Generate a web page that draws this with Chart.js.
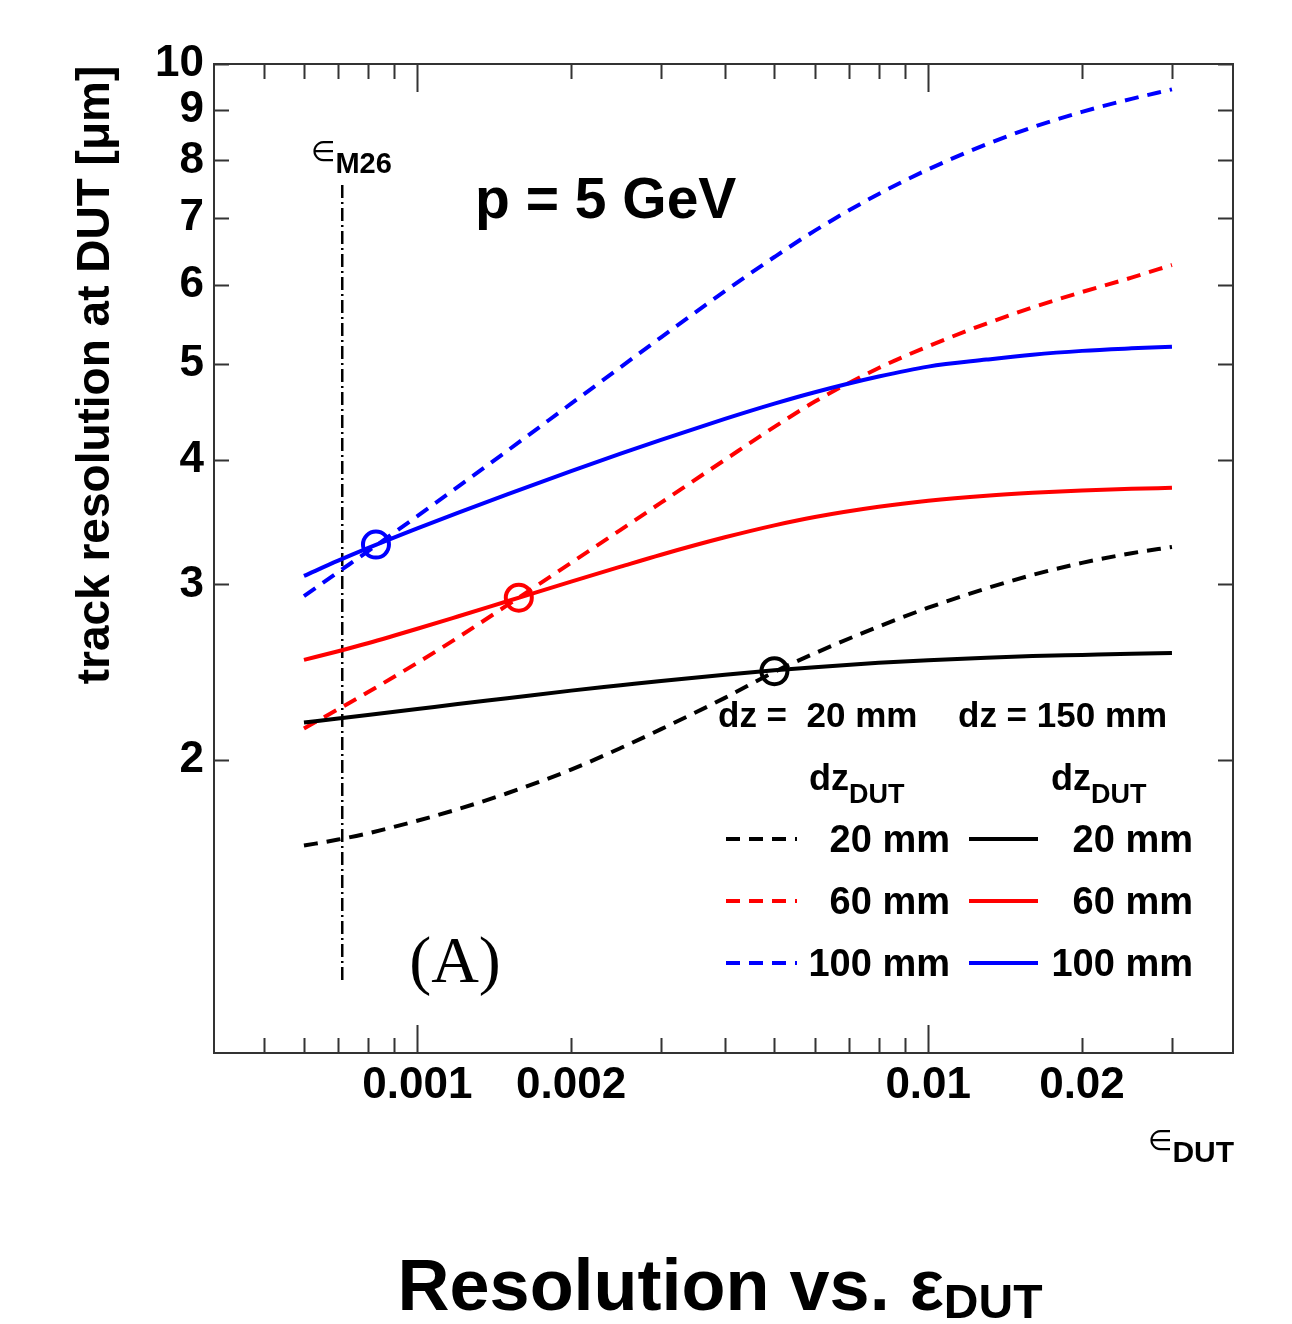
<!DOCTYPE html>
<html>
<head>
<meta charset="utf-8">
<script src="https://cdn.jsdelivr.net/npm/chart.js@4.4.1/dist/chart.umd.min.js"></script>
<style>
  body { margin: 0; background: #fff; }
  #wrap { width: 1292px; height: 1324px; }
</style>
</head>
<body>
<div id="wrap"><canvas id="resChart" width="1292" height="1324"></canvas></div>
<script>
// material budget of the DUT (x axis samples)
const epsDut = [0.0006, 0.0007, 0.0008, 0.001, 0.0012, 0.0015, 0.002, 0.0025, 0.003, 0.004,
                0.005, 0.006, 0.008, 0.01, 0.013, 0.016, 0.02, 0.025, 0.03];

// dz = 20 mm (dashed curves), track resolution in um
const dut20_dz20  = [1.640, 1.663, 1.687, 1.737, 1.784, 1.851, 1.955, 2.055, 2.147, 2.308, 2.451, 2.559, 2.722, 2.843, 2.973, 3.067, 3.154, 3.225, 3.272];
const dut60_dz20  = [2.150, 2.248, 2.338, 2.503, 2.653, 2.860, 3.154, 3.404, 3.625, 4.003, 4.320, 4.580, 4.950, 5.205, 5.486, 5.694, 5.901, 6.101, 6.282];
const dut100_dz20 = [2.920, 3.087, 3.239, 3.514, 3.760, 4.087, 4.558, 4.960, 5.314, 5.913, 6.399, 6.802, 7.404, 7.837, 8.304, 8.638, 8.952, 9.225, 9.430];

// dz = 150 mm (solid curves)
const dut20_dz150  = [2.180, 2.200, 2.218, 2.249, 2.275, 2.306, 2.347, 2.376, 2.400, 2.435, 2.460, 2.478, 2.503, 2.518, 2.533, 2.542, 2.549, 2.556, 2.560];
const dut60_dz150  = [2.520, 2.571, 2.619, 2.708, 2.786, 2.886, 3.020, 3.126, 3.214, 3.346, 3.440, 3.507, 3.591, 3.641, 3.684, 3.709, 3.729, 3.743, 3.752];
const dut100_dz150 = [3.060, 3.170, 3.263, 3.416, 3.541, 3.696, 3.900, 4.060, 4.192, 4.400, 4.558, 4.680, 4.853, 4.966, 5.047, 5.105, 5.150, 5.180, 5.200];

// crossing points (open circles): blue, red, black
const crossEps = [0.00083, 0.00158, 0.005];
const crossRes = [3.29, 2.91, 2.455];

// eps of the M26 planes (dash-dot vertical line)
const epsM26 = 0.000713;
const m26Res = [7.56, 1.20];

// axis ticks
const xTicks = [0.0005, 0.0006, 0.0007, 0.0008, 0.0009, 0.001, 0.002, 0.003, 0.004, 0.005,
                0.006, 0.007, 0.008, 0.009, 0.01, 0.02, 0.03];
const xMajor = [0.001, 0.01];
const xLabels = { '0.001': '0.001', '0.002': '0.002', '0.01': '0.01', '0.02': '0.02' };
const yTicks = [2, 3, 4, 5, 6, 7, 8, 9, 10];

const BLUE = '#0000ff', RED = '#ff0000', BLACK = '#000000';
const DASH = [14, 9];

function pts(arr) {
    return epsDut.map((e, i) => ({ x: e, y: arr[i] }));
}

function curve(arr, color, dashed) {
    return {
        data: pts(arr),
        borderColor: color,
        borderWidth: 4,
        borderDash: dashed ? DASH : [],
        pointRadius: 0,
        cubicInterpolationMode: 'monotone',
        fill: false
    };
}

// text, frame and inward ticks in ROOT style
const decorations = {
    id: 'decorations',
    afterDatasetsDraw(chart) {
        const { ctx, chartArea: a, scales: { x, y } } = chart;
        ctx.save();

        // frame
        ctx.strokeStyle = '#333';
        ctx.lineWidth = 2;
        ctx.strokeRect(a.left, a.top, a.right - a.left, a.bottom - a.top);

        // x ticks, bottom and top
        xTicks.forEach(v => {
            const px = Math.round(x.getPixelForValue(v)) + 0.5;
            const len = xMajor.includes(v) ? 28 : 15;
            ctx.beginPath();
            ctx.moveTo(px, a.bottom); ctx.lineTo(px, a.bottom - len);
            ctx.moveTo(px, a.top); ctx.lineTo(px, a.top + len);
            ctx.stroke();
        });
        // y ticks, left and right
        yTicks.forEach(v => {
            const py = Math.round(y.getPixelForValue(v)) + 0.5;
            ctx.beginPath();
            ctx.moveTo(a.left, py); ctx.lineTo(a.left + 15, py);
            ctx.moveTo(a.right, py); ctx.lineTo(a.right - 15, py);
            ctx.stroke();
        });

        ctx.fillStyle = '#000';
        ctx.textBaseline = 'alphabetic';
        const SANS = '"Liberation Sans", Arial, sans-serif';

        function txt(s, px, py, font, align) {
            ctx.font = font;
            ctx.textAlign = align || 'left';
            ctx.fillText(s, px, py);
            return ctx.measureText(s).width;
        }

        // y axis title
        ctx.save();
        ctx.translate(109, 375);
        ctx.rotate(-Math.PI / 2);
        txt('track resolution at DUT [\u03bcm]', 0, 0, 'bold 46px ' + SANS, 'center');
        ctx.restore();

        // x axis title: eps_DUT
        let w = txt('\u2208', 1148, 1150, '28px "DejaVu Sans"');
        txt('DUT', 1148 + w, 1162, 'bold 30px ' + SANS);

        // eps_M26 label
        w = txt('\u2208', 311, 161, '28px "DejaVu Sans"');
        txt('M26', 311 + w, 173, 'bold 29px ' + SANS);

        // momentum
        txt('p = 5 GeV', 475, 218, 'bold 57px ' + SANS);

        // panel label
        txt('(A)', 455, 982, '66px "Liberation Serif", "Times New Roman", serif', 'center');

        // legend headers
        txt('dz =  20 mm', 718, 727, 'bold 35px ' + SANS);
        txt('dz = 150 mm', 958, 727, 'bold 35px ' + SANS);
        w = txt('dz', 809, 790, 'bold 36px ' + SANS);
        txt('DUT', 809 + w, 803, 'bold 27px ' + SANS);
        w = txt('dz', 1051, 790, 'bold 36px ' + SANS);
        txt('DUT', 1051 + w, 803, 'bold 27px ' + SANS);

        // legend rows
        const rows = [['20 mm', BLACK], ['60 mm', RED], ['100 mm', BLUE]];
        rows.forEach((r, i) => {
            const ly = 839 + i * 62;
            ctx.lineWidth = 4;
            ctx.strokeStyle = r[1];
            ctx.setLineDash(DASH);
            ctx.beginPath(); ctx.moveTo(726, ly); ctx.lineTo(797, ly); ctx.stroke();
            ctx.setLineDash([]);
            ctx.beginPath(); ctx.moveTo(969, ly); ctx.lineTo(1038, ly); ctx.stroke();
            txt(r[0], 950, ly + 13, 'bold 38px ' + SANS, 'right');
            txt(r[0], 1193, ly + 13, 'bold 38px ' + SANS, 'right');
        });

        // bottom title
        const tFont = 'bold 72px ' + SANS;
        const sFont = 'bold 48px ' + SANS;
        ctx.font = tFont;
        const w1 = ctx.measureText('Resolution vs. \u03b5').width;
        ctx.font = sFont;
        const w2 = ctx.measureText('DUT').width;
        const x0 = 720 - (w1 + w2) / 2;
        txt('Resolution vs. \u03b5', x0, 1310, tFont);
        txt('DUT', x0 + w1, 1318, sFont);

        ctx.restore();
    }
};

const tickFont = { family: '"Liberation Sans", Arial, sans-serif', size: 44, weight: 'bold' };

const resChart = new Chart(document.getElementById('resChart'), {
    type: 'line',
    data: {
        datasets: [
            // crossing circles (drawn on top)
            {
                data: crossEps.map((e, i) => ({ x: e, y: crossRes[i] })),
                showLine: false,
                pointStyle: 'circle',
                pointRadius: 13,
                pointBorderWidth: 4,
                pointBackgroundColor: 'rgba(0,0,0,0)',
                pointBorderColor: [BLUE, RED, BLACK]
            },
            curve(dut100_dz150, BLUE, false),
            curve(dut60_dz150, RED, false),
            curve(dut20_dz150, BLACK, false),
            curve(dut100_dz20, BLUE, true),
            curve(dut60_dz20, RED, true),
            curve(dut20_dz20, BLACK, true),
            // eps M26 marker line
            {
                data: m26Res.map(r => ({ x: epsM26, y: r })),
                borderColor: BLACK,
                borderWidth: 2.5,
                borderDash: [13, 4, 2, 4],
                pointRadius: 0
            }
        ]
    },
    options: {
        responsive: false,
        animation: false,
        layout: { padding: { left: 0, top: 64, right: 59, bottom: 0 } },
        plugins: { legend: { display: false }, tooltip: { enabled: false } },
        scales: {
            x: {
                type: 'logarithmic',
                min: 0.0004,
                max: 0.0395,
                afterBuildTicks: s => { s.ticks = xTicks.map(v => ({ value: v })); },
                afterFit: s => { s.height = 271; },
                grid: { display: false, drawTicks: false },
                border: { display: false },
                ticks: {
                    autoSkip: false, maxRotation: 0, minRotation: 0,
                    padding: 6, color: '#000', font: tickFont,
                    callback: v => xLabels[String(v)] || ''
                }
            },
            y: {
                type: 'logarithmic',
                min: 1.015,
                max: 10,
                afterBuildTicks: s => { s.ticks = yTicks.map(v => ({ value: v })); },
                afterFit: s => { s.width = 214; },
                grid: { display: false, drawTicks: false },
                border: { display: false },
                ticks: {
                    autoSkip: false, padding: 10, color: '#000', font: tickFont,
                    callback: v => String(v)
                }
            }
        }
    },
    plugins: [decorations]
});
</script>
</body>
</html>
